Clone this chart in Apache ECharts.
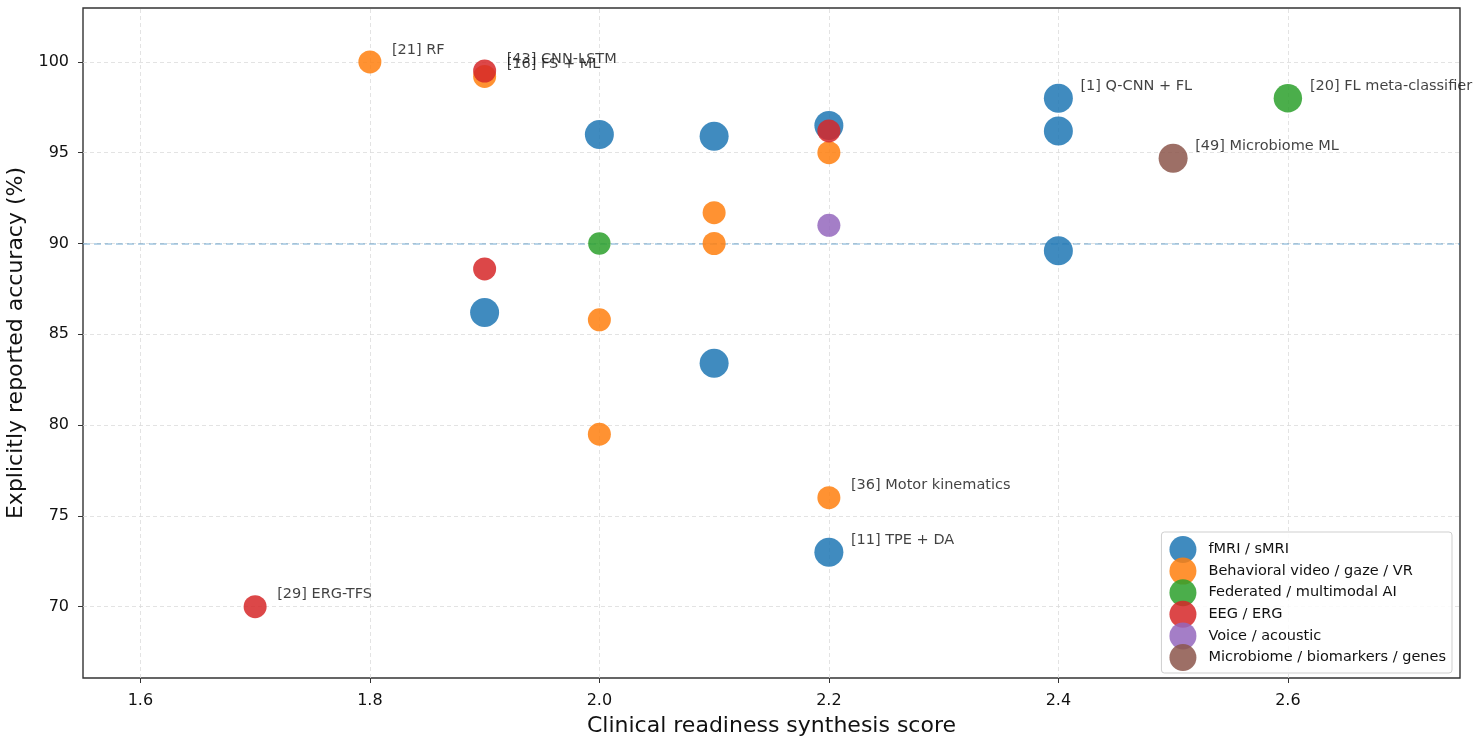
<!DOCTYPE html>
<html>
<head>
<meta charset="utf-8">
<script src="https://cdn.jsdelivr.net/npm/echarts@6/dist/echarts.min.js"></script>
<style>
  html, body { margin: 0; padding: 0; background: #fff; }
  #chart { width: 1482px; height: 751px; }
</style>
</head>
<body>
<div id="chart"></div>
<script>
// ---------------------------------------------------------------------------
// Clinical readiness vs reported accuracy, by modality
// ---------------------------------------------------------------------------
const xTicks = [1.6, 1.8, 2.0, 2.2, 2.4, 2.6];
const yTicks = [70, 75, 80, 85, 90, 95, 100];
const threshold = 90;

const categories = [
  "fMRI / sMRI",
  "Behavioral video / gaze / VR",
  "Federated / multimodal AI",
  "EEG / ERG",
  "Voice / acoustic",
  "Microbiome / biomarkers / genes"
];
const colors = ["#1f77b4", "#ff7f0e", "#2ca02c", "#d62728", "#9467bd", "#8c564b"];

// [score, accuracy, weight]
const fmri = [[2.0, 96.0, 3], [2.1, 95.9, 3], [2.2, 96.5, 3], [2.4, 98.0, 3], [2.4, 96.2, 3],
  [2.4, 89.6, 3], [1.9, 86.2, 3], [2.1, 83.4, 3], [2.2, 73.0, 3]];
const behavioral = [[1.8, 100.0, 2], [1.9, 99.2, 2], [2.2, 95.0, 2], [2.1, 91.7, 2], [2.1, 90.0, 2],
  [2.0, 85.8, 2], [2.0, 79.5, 2], [2.2, 76.0, 2]];
const federated = [[2.0, 90.0, 1.9], [2.6, 98.0, 2.9]];
const eeg = [[1.9, 99.5, 2], [1.9, 88.6, 2], [2.2, 96.2, 2], [1.7, 70.0, 2]];
const voice = [[2.2, 91.0, 2]];
const microbiome = [[2.5, 94.7, 3]];

const annotations = [
  [1.8, 100.0, "[21] RF"],
  [1.9, 99.5, "[43] CNN-LSTM"],
  [1.9, 99.2, "[16] FS + ML"],
  [2.4, 98.0, "[1] Q-CNN + FL"],
  [2.6, 98.0, "[20] FL meta-classifier"],
  [2.5, 94.7, "[49] Microbiome ML"],
  [2.2, 76.0, "[36] Motor kinematics"],
  [2.2, 73.0, "[11] TPE + DA"],
  [1.7, 70.0, "[29] ERG-TFS"]
];

const groups = [fmri, behavioral, federated, eeg, voice, microbiome];
const font = "DejaVu Sans";

function sizeOf(v) {
  // weight -> diameter
  return 11 + v[2] * 6;
}

const chart = echarts.init(document.getElementById("chart"));

const gridSeries = {
  type: "line",
  data: [],
  z: 1,
  silent: true,
  markLine: {
    symbol: "none",
    silent: true,
    animation: false,
    z: 1,
    label: { show: false },
    lineStyle: { color: "#dcdcdc", type: [4, 3], width: 0.8 },
    data: [
      ...xTicks.map((v) => ({ xAxis: v })),
      ...yTicks.map((v) => ({ yAxis: v })),
      { yAxis: threshold, lineStyle: { color: "rgba(31,119,180,0.42)", type: [7, 4], width: 1.6 } }
    ]
  }
};

const scatterSeries = groups.map((g, i) => ({
  name: categories[i],
  type: "scatter",
  data: g,
  z: 6,
  symbolSize: sizeOf,
  itemStyle: { color: colors[i], opacity: 0.85 }
}));

const labelSeries = {
  type: "scatter",
  data: annotations.map((a) => ({ value: [a[0], a[1]], name: a[2] })),
  symbolSize: 0,
  z: 7,
  silent: true,
  label: {
    show: true,
    position: "right",
    distance: 0,
    offset: [22, -12],
    formatter: (p) => p.name,
    fontFamily: font,
    fontSize: 14.5,
    color: "#111"
  }
};

chart.setOption({
  animation: false,
  backgroundColor: "#fff",
  textStyle: { fontFamily: font },
  grid: {
    left: 83, right: 22, top: 8, bottom: 73,
    outerBoundsMode: "none",
    show: true, borderColor: "#333", borderWidth: 1.4
  },
  legend: {
    data: categories,
    orient: "vertical",
    right: 30,
    bottom: 78,
    icon: "circle",
    itemWidth: 27,
    itemHeight: 27,
    itemGap: -5.4,
    padding: [4, 6, 2, 8],
    borderColor: "#cfcfcf",
    borderWidth: 1,
    borderRadius: 3,
    backgroundColor: "rgba(255,255,255,0.85)",
    textStyle: { fontFamily: font, fontSize: 14.5, color: "#111", padding: [0, 0, 0, 7] }
  },
  xAxis: {
    type: "value",
    min: 1.55,
    max: 2.75,
    name: "Clinical readiness synthesis score",
    nameLocation: "middle",
    nameGap: 37,
    nameTextStyle: { fontFamily: font, fontSize: 22, color: "#111" },
    axisLine: { show: false },
    splitLine: { show: false },
    axisTick: { show: true, customValues: xTicks, length: 5, lineStyle: { color: "#333" } },
    axisLabel: {
      customValues: xTicks,
      margin: 15,
      fontFamily: font,
      fontSize: 16,
      color: "#111",
      formatter: (v) => v.toFixed(1)
    }
  },
  yAxis: {
    type: "value",
    min: 66.07,
    max: 102.97,
    name: "Explicitly reported accuracy (%)",
    nameLocation: "middle",
    nameGap: 55,
    nameTextStyle: { fontFamily: font, fontSize: 22, color: "#111" },
    axisLine: { show: false },
    splitLine: { show: false },
    axisTick: { show: true, customValues: yTicks, length: 5, lineStyle: { color: "#333" } },
    axisLabel: {
      customValues: yTicks,
      margin: 14,
      fontFamily: font,
      fontSize: 16,
      color: "#111"
    }
  },
  series: [gridSeries, ...scatterSeries, labelSeries]
});
</script>
</body>
</html>
